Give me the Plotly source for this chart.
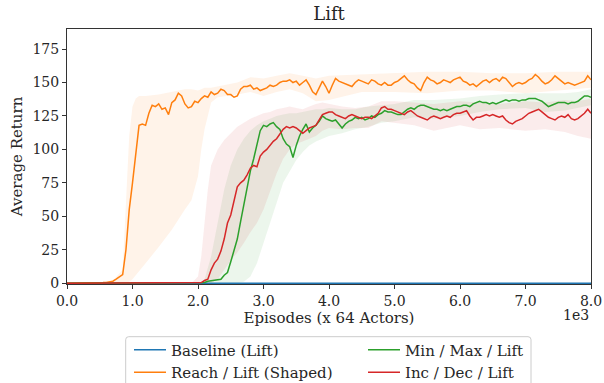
import numpy as np
import plotly.graph_objects as go

# ---------------- data (x in thousands of episodes) ----------------
baseline_x = [0.0, 0.5, 1.0, 1.5, 2.0, 2.5, 3.0, 3.5, 4.0, 4.5, 5.0, 5.5, 6.0, 6.5, 7.0, 7.5, 8.0]
baseline_y = [0, 0, 0, 0, 0, 0, 0, 0, 0, 0, 0, 0, 0, 0, 0, 0, 0]

# mean curves sampled every 0.05 (x 1e3 episodes)
reach_y = [
    0, 0, 0, 0, 0, 0, 0, 0.2, 0.3, 0.4,
    0.5, 0.5, 0.6, 0.8, 1.5, 3, 5, 6.5, 25, 55,
    75, 95, 118, 119, 118, 127, 133, 132, 134, 130,
    131, 126, 135, 137, 142, 140, 134, 131, 132, 136,
    135, 138, 140, 139, 143, 141, 142, 145, 144, 141,
    141, 139, 140, 145, 147, 147, 148, 145, 146, 144,
    145, 146, 148, 147, 148, 150, 151, 151, 152, 150,
    151, 148, 150, 152, 148, 143, 141, 146, 151, 147,
    142, 148, 153, 151, 150, 149, 148, 147, 150, 152,
    151, 150, 149, 152, 151, 149, 148, 150, 148, 148,
    150, 151, 153, 155, 152, 150, 149, 146, 144, 150,
    154, 152, 151, 149, 150, 152, 151, 150, 152, 153,
    154, 151, 150, 148, 149, 147, 149, 151, 152, 150,
    152, 153, 151, 154, 153, 150, 147, 149, 150, 149,
    150, 152, 153, 156, 154, 151, 149, 150, 152, 155,
    153, 151, 149, 150, 149, 148, 149, 150, 151, 155,
    152,
]

minmax_y = [
    0, 0, 0, 0, 0, 0, 0, 0, 0, 0,
    0, 0, 0, 0, 0, 0, 0, 0, 0, 0,
    0, 0, 0, 0, 0, 0, 0, 0, 0, 0,
    0, 0, 0, 0, 0, 0, 0, 0, 0, 0,
    0, 0, 0.5, 1.5, 2, 2, 2.5, 3, 6, 8,
    16, 25, 33, 46, 58, 72, 84, 93, 104, 114,
    118, 117, 119, 120, 117, 115, 108, 104, 102, 94,
    103, 110, 115, 119, 113, 116, 118, 121, 125, 123,
    122, 121, 122, 119, 116, 119, 121, 122, 124, 123,
    124, 122, 123, 125, 124, 126, 127, 129, 128, 128,
    127, 126, 126, 128, 130, 131, 130, 132, 133, 133,
    132, 131, 130, 130, 129, 130, 129, 130, 131, 132,
    132, 133, 133, 132, 134, 135, 136, 135, 135, 134,
    135, 134, 135, 136, 137, 136, 137, 137, 136, 137,
    137, 138, 138, 138, 137, 136, 134, 132, 133, 134,
    135, 135, 135, 134, 135, 135, 136, 138, 140, 140,
    139,
]

incdec_y = [
    0, 0, 0, 0, 0, 0, 0, 0, 0, 0,
    0, 0, 0, 0, 0, 0, 0, 0, 0, 0,
    0, 0, 0, 0, 0, 0, 0, 0, 0, 0,
    0, 0, 0, 0, 0, 0, 0, 0, 0, 0,
    0, 0.5, 2, 3, 10, 15, 18, 24, 33, 45,
    51, 62, 72, 75, 77, 81, 86, 88, 87, 95,
    98, 100, 103, 106, 108, 112, 115, 117, 116, 117,
    116, 114, 112, 114, 116, 117, 118, 122, 126, 127,
    128, 128, 126, 125, 124, 123, 125, 126, 125, 124,
    123, 124, 124, 123, 125, 127, 131, 132, 130, 130,
    129, 128, 127, 126, 128, 129, 127, 125, 124, 123,
    122, 124, 125, 124, 123, 124, 125, 124, 126, 127,
    127, 128, 129, 125, 122, 124, 124, 125, 126, 125,
    126, 125, 124, 125, 122, 120, 119, 121, 122, 123,
    125, 127, 128, 129, 130, 128, 126, 124, 123, 122,
    124, 125, 124, 126, 123, 122, 123, 125, 127, 130,
    127,
]

# shaded bands (min / max envelopes)
reach_band_x = [0.0, 0.5, 0.7, 0.85, 0.9, 0.95, 1.0, 1.05, 1.1, 1.2, 1.4, 1.6, 1.8, 1.9, 2.0,
                2.05, 2.1, 2.2, 2.3, 2.4, 2.6, 2.8, 3.0, 3.2, 3.4, 3.6, 3.8, 4.0, 4.5, 5.0,
                5.5, 6.0, 6.5, 7.0, 7.5, 8.0]
reach_band_hi = [0, 0.5, 2, 10, 60, 110, 132, 138, 140, 140, 141, 143, 145, 145, 144,
                 145, 146, 146, 147, 148, 150, 154, 153, 155, 157, 155, 153, 155, 156, 157,
                 158, 158, 157, 157, 158, 158]
reach_band_lo = [0, 0, 0, 0, 0, 1, 3, 6, 9, 15, 27, 40, 55, 62, 80,
                 100, 115, 135, 139, 140, 141, 143, 140, 143, 145, 142, 136, 137, 143, 143,
                 142, 144, 144, 142, 144, 146]

minmax_band_x = [2.05, 2.1, 2.2, 2.3, 2.4, 2.5, 2.6, 2.7, 2.8, 2.9, 3.0, 3.1, 3.2, 3.3, 3.4,
                 3.5, 3.6, 3.7, 3.8, 3.9, 4.0, 4.2, 4.4, 4.6, 4.8, 5.0, 5.3, 5.6, 6.0, 6.3,
                 6.6, 7.0, 7.3, 7.6, 7.8, 8.0]
minmax_band_hi = [0, 3, 20, 45, 70, 88, 100, 108, 114, 118, 121, 123, 125, 126, 127,
                  127, 128, 129, 130, 130, 131, 130, 130, 132, 133, 134, 137, 137, 138, 140,
                  141, 142, 142, 142, 143, 145]
minmax_band_lo = [0, 0, 0, 0, 0, 0, 0, 1, 5, 15, 30, 45, 60, 75, 84,
                  92, 98, 103, 106, 108, 110, 112, 115, 117, 120, 121, 124, 123, 125, 128,
                  130, 131, 128, 129, 131, 133]

incdec_band_x = [1.9, 2.0, 2.05, 2.1, 2.15, 2.2, 2.3, 2.4, 2.5, 2.6, 2.7, 2.8, 2.9, 3.0, 3.1,
                 3.2, 3.3, 3.4, 3.5, 3.6, 3.7, 3.8, 3.9, 4.0, 4.2, 4.4, 4.6, 4.8, 5.0, 5.3,
                 5.6, 6.0, 6.3, 6.6, 7.0, 7.3, 7.6, 7.8, 8.0]
incdec_band_hi = [0, 5, 20, 45, 70, 88, 100, 107, 112, 117, 120, 123, 125, 127, 128,
                  130, 131, 132, 131, 130, 132, 134, 135, 134, 132, 131, 132, 136, 136, 135,
                  134, 136, 135, 134, 136, 135, 137, 136, 138]
incdec_band_lo = [0, 0, 0, 0, 0, 0, 3, 10, 17, 23, 30, 38, 45, 55, 68,
                  82, 93, 100, 104, 106, 108, 110, 114, 116, 115, 116, 116, 121, 120, 118,
                  114, 118, 115, 116, 114, 115, 113, 110, 108]

labels = ["Baseline (Lift)", "Reach / Lift (Shaped)", "Min / Max / Lift", "Inc / Dec / Lift"]
colors = ["#1f77b4", "#ff7f0e", "#2ca02c", "#d62728"]
fills = ["rgba(255,127,14,0.09)", "rgba(44,160,44,0.09)", "rgba(214,39,40,0.09)"]

x_ticks = [0, 1, 2, 3, 4, 5, 6, 7, 8]
y_ticks = [0, 25, 50, 75, 100, 125, 150, 175]


def grid(vals):
    return list(np.linspace(0.0, 8.0, len(vals)))


FONT = "DejaVu Serif"
TXT = "#262626"

# plot-area geometry (px) used to place the legend frame in paper coords
PL, PR, PT, PB = 67, 591, 29, 284
PW, PH = PR - PL, PB - PT

fig = go.Figure()

for bx, hi, lo, fc in [(reach_band_x, reach_band_hi, reach_band_lo, fills[0]),
                       (minmax_band_x, minmax_band_hi, minmax_band_lo, fills[1]),
                       (incdec_band_x, incdec_band_hi, incdec_band_lo, fills[2])]:
    fig.add_trace(go.Scatter(x=bx + bx[::-1], y=hi + lo[::-1], fill="toself",
                             fillcolor=fc, line=dict(width=0), mode="lines",
                             hoverinfo="skip", showlegend=False))

series = [
    (baseline_x, baseline_y, "legend"),
    (grid(reach_y), reach_y, "legend"),
    (grid(minmax_y), minmax_y, "legend2"),
    (grid(incdec_y), incdec_y, "legend2"),
]
for i, (xs, ys, lg) in enumerate(series):
    fig.add_trace(go.Scatter(x=xs, y=ys, mode="lines", name=labels[i],
                             line=dict(color=colors[i], width=1.5),
                             legend=lg, legendgroup="g%d" % i))

leg_common = dict(orientation="v", xref="paper", yref="paper",
                  xanchor="left", yanchor="top", y=(PB - 333.5) / PH,
                  borderwidth=0, bgcolor="rgba(0,0,0,0)", itemwidth=32,
                  tracegroupgap=0, font=dict(size=15, color=TXT))

fig.update_layout(
    width=604, height=383,
    margin=dict(l=PL, r=604 - PR, t=PT, b=383 - PB, autoexpand=False),
    paper_bgcolor="white", plot_bgcolor="white",
    font=dict(family=FONT, size=14, color=TXT),
    title=dict(text="Lift", x=0.5, xanchor="center", y=0.965, yanchor="middle",
               xref="paper", font=dict(size=18, color=TXT)),
    showlegend=True,
    legend=dict(x=(129 - PL) / PW, **leg_common),
    legend2=dict(x=(363 - PL) / PW, **leg_common),
)

# legend frame (rounded top corners), in paper coordinates
x0, x1 = (125.7 - PL) / PW, (531 - PL) / PW
yt, yb = (PB - 336.7) / PH, (PB - 395) / PH
rx, ry = 3 / PW, 3 / PH
frame = (f"M{x0 + rx},{yt} L{x1 - rx},{yt} Q{x1},{yt} {x1},{yt - ry} L{x1},{yb} "
         f"L{x0},{yb} L{x0},{yt - ry} Q{x0},{yt} {x0 + rx},{yt} Z")
fig.add_shape(type="path", path=frame, xref="paper", yref="paper",
              line=dict(color="#cccccc", width=1), fillcolor="white", layer="below")

fig.update_xaxes(range=[0, 8], tickvals=x_ticks, tickformat=".1f",
                 showline=True, linecolor="#333333", linewidth=1, mirror=True,
                 ticks="outside", ticklen=4, tickcolor="#333333", showgrid=False,
                 zeroline=False, tickfont=dict(size=14),
                 title=dict(text="Episodes (x 64 Actors)", font=dict(size=15), standoff=1))
fig.update_yaxes(range=[-0.6, 190], tickvals=y_ticks,
                 showline=True, linecolor="#333333", linewidth=1, mirror=True,
                 ticks="outside", ticklen=4, tickcolor="#333333", showgrid=False,
                 zeroline=False, tickfont=dict(size=14),
                 title=dict(text="Average Return", font=dict(size=15), standoff=6))

fig.add_annotation(text="1e3", xref="paper", yref="paper", x=1.0, y=-0.12,
                   xanchor="right", yanchor="middle", showarrow=False,
                   font=dict(size=14, color=TXT))

fig.write_html("out.html")
